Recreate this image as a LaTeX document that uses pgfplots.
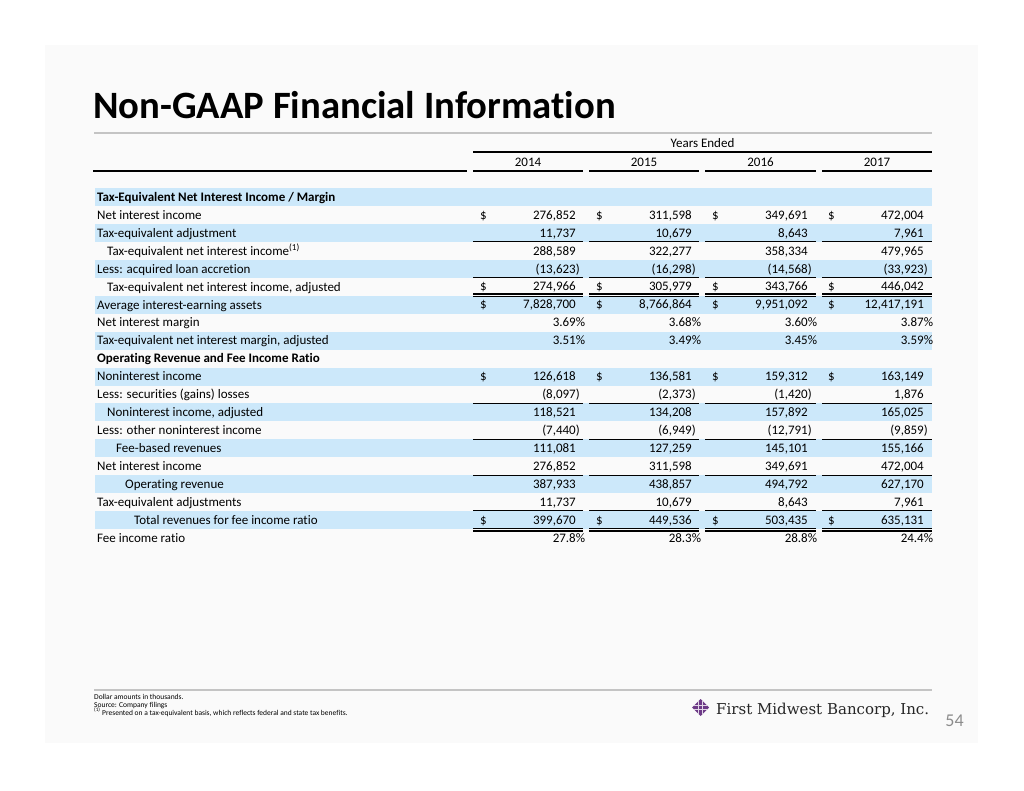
\documentclass[border=0pt]{standalone}
\usepackage{pgfplots}
\pgfplotsset{compat=1.18}
\usepackage{pgfplotstable}
\usepackage{fontspec}
\setmainfont{Carlito}[Ligatures=NoCommon]
\newfontfamily\logofont{DejaVu Serif}
\definecolor{band}{HTML}{CCE8FA}
\definecolor{slidebg}{HTML}{FAFAFA}
\definecolor{rulegray}{HTML}{C4C4C4}
\definecolor{logopurple}{HTML}{6D3A87}
\definecolor{pagegray}{HTML}{8C8C8C}

\newcommand\body{\fontsize{13}{15}\selectfont}
\pgfkeys{/pgf/number format/acctfmt/.style={fixed,precision=0,1000 sep={,},assume math mode=true}}
\def\myflip#1#2\relax{\def\myabs{1#2}}
\newcommand\acct{\pgfmathfloatgetflagstomacro{\pgfplotspointmeta}{\myflags}%
  \ifnum\myflags=2 \expandafter\myflip\pgfplotspointmeta\relax
  (\pgfmathprintnumber[acctfmt]{\myabs}\rlap{)}%
  \else\pgfmathprintnumber[acctfmt]{\pgfplotspointmeta}\fi}

% Dollar amounts in thousands (negative = shown in parentheses)
\pgfplotstableread{
row c2014 c2015 c2016 c2017
1 276852 311598 349691 472004
2 11737 10679 8643 7961
3 288589 322277 358334 479965
4 -13623 -16298 -14568 -33923
5 274966 305979 343766 446042
6 7828700 8766864 9951092 12417191
10 126618 136581 159312 163149
11 -8097 -2373 -1420 1876
12 118521 134208 157892 165025
13 -7440 -6949 -12791 -9859
14 111081 127259 145101 155166
15 276852 311598 349691 472004
16 387933 438857 494792 627170
17 11737 10679 8643 7961
18 399670 449536 503435 635131
}\amounts
% Margins (percent)
\pgfplotstableread{
row c2014 c2015 c2016 c2017
7 3.69 3.68 3.60 3.87
8 3.51 3.49 3.45 3.59
}\margins
% Fee income ratio (percent)
\pgfplotstableread{
row c2014 c2015 c2016 c2017
19 27.8 28.3 28.8 24.4
}\feeratio
% Rows that carry a dollar sign
\pgfplotstableread{
row dollar
1 1
5 1
6 1
10 1
18 1
}\dollarrows

\pgfplotsset{
  cell/.style={draw=none, mark=none, point meta=explicit,
    every node near coord/.append style={anchor=base east, inner sep=0pt, font=\body, text=black}},
}
\newcommand\colrule[2][0.9pt]{\draw[line width=#1] (axis cs:473,#2)--(axis cs:583,#2) (axis cs:589,#2)--(axis cs:699,#2) (axis cs:705,#2)--(axis cs:816,#2) (axis cs:822,#2)--(axis cs:932,#2);}

\begin{document}
\begin{tikzpicture}
\begin{axis}[width=1024pt, height=791pt, scale only axis,
  xmin=0, xmax=1024, ymin=0, ymax=791, y dir=reverse,
  axis lines=none, ticks=none, clip=false]
% background
\fill[white] (axis cs:0,0) rectangle (axis cs:1024,791);
\fill[slidebg] (axis cs:45,45) rectangle (axis cs:978,743);
% bands
\fill[band] (axis cs:95,188) rectangle (axis cs:932,206);
\fill[band] (axis cs:95,223.9) rectangle (axis cs:932,241.9);
\fill[band] (axis cs:95,259.8) rectangle (axis cs:932,277.8);
\fill[band] (axis cs:95,296.2) rectangle (axis cs:932,313.7);
\fill[band] (axis cs:95,331.6) rectangle (axis cs:932,349.6);
\fill[band] (axis cs:95,367.5) rectangle (axis cs:932,385.5);
\fill[band] (axis cs:95,403.4) rectangle (axis cs:932,421.4);
\fill[band] (axis cs:95,439.3) rectangle (axis cs:932,457.3);
\fill[band] (axis cs:95,475.2) rectangle (axis cs:932,493.2);
\fill[band] (axis cs:95,511.1) rectangle (axis cs:932,529.1);
% title
\node[anchor=base west, inner sep=0pt, font=\fontsize{38.7}{43}\selectfont\bfseries] at (axis cs:93,119) {Non-GAAP Financial Information};
\draw[rulegray, line width=2.2pt] (axis cs:94,133) -- (axis cs:932,133);
% header
\node[anchor=base, inner sep=0pt, font=\body] at (axis cs:702.5,147.5) {Years Ended};
\draw[line width=1.1pt] (axis cs:473,152) -- (axis cs:932,152);
\node[anchor=base, inner sep=0pt, font=\body] at (axis cs:528,166.5) {2014};
\node[anchor=base, inner sep=0pt, font=\body] at (axis cs:644,166.5) {2015};
\node[anchor=base, inner sep=0pt, font=\body] at (axis cs:760.5,166.5) {2016};
\node[anchor=base, inner sep=0pt, font=\body] at (axis cs:877,166.5) {2017};
\draw[line width=1.1pt] (axis cs:93,171) -- (axis cs:467,171);
\colrule[1.1pt]{171}
% row labels
\begin{scope}[every node/.style={anchor=base west, inner sep=0pt, font=\body}]
\node[font=\body\bfseries] at (axis cs:97,201.3) {Tax-Equivalent Net Interest Income / Margin};
\node at (axis cs:97,219.25) {Net interest income};
\node at (axis cs:97,237.2) {Tax-equivalent adjustment};
\node at (axis cs:107,255.15) {Tax-equivalent net interest income\textsuperscript{(1)}};
\node at (axis cs:97,273.1) {Less: acquired loan accretion};
\node at (axis cs:107,291.05) {Tax-equivalent net interest income, adjusted};
\node at (axis cs:97,309.0) {Average interest-earning assets};
\node at (axis cs:97,326.95) {Net interest margin};
\node at (axis cs:97,344.9) {Tax-equivalent net interest margin, adjusted};
\node[font=\body\bfseries] at (axis cs:97,362.85) {Operating Revenue and Fee Income Ratio};
\node at (axis cs:97,380.8) {Noninterest income};
\node at (axis cs:97,398.75) {Less: securities (gains) losses};
\node at (axis cs:107,416.7) {Noninterest income, adjusted};
\node at (axis cs:97,434.65) {Less: other noninterest income};
\node at (axis cs:116,452.6) {Fee-based revenues};
\node at (axis cs:97,470.55) {Net interest income};
\node at (axis cs:125,488.5) {Operating revenue};
\node at (axis cs:97,506.45) {Tax-equivalent adjustments};
\node at (axis cs:134,524.4) {Total revenues for fee income ratio};
\node at (axis cs:97,542.35) {Fee income ratio};
\end{scope}
% rules under columns
\colrule{241.4}
\colrule{277.2}
\colrule[1.1pt]{294.0}
\colrule[1.1pt]{296.7}
\colrule{403.2}
\colrule{439.1}
\colrule{475.0}
\colrule{510.9}
\colrule[1.1pt]{528.3}
\colrule[1.1pt]{531.0}
% values
\addplot[cell, nodes near coords={\acct}] table[x expr=576, y expr={201.2+17.95*\thisrow{row}}, meta=c2014] {\amounts};
\addplot[cell, nodes near coords={\acct}] table[x expr=692, y expr={201.2+17.95*\thisrow{row}}, meta=c2015] {\amounts};
\addplot[cell, nodes near coords={\acct}] table[x expr=808, y expr={201.2+17.95*\thisrow{row}}, meta=c2016] {\amounts};
\addplot[cell, nodes near coords={\acct}] table[x expr=924, y expr={201.2+17.95*\thisrow{row}}, meta=c2017] {\amounts};
\addplot[cell, nodes near coords={\pgfmathprintnumber[fixed,fixed zerofill,precision=2,assume math mode=true]{\pgfplotspointmeta}\rlap{\%}}] table[x expr=576, y expr={201.2+17.95*\thisrow{row}}, meta=c2014] {\margins};
\addplot[cell, nodes near coords={\pgfmathprintnumber[fixed,fixed zerofill,precision=2,assume math mode=true]{\pgfplotspointmeta}\rlap{\%}}] table[x expr=692, y expr={201.2+17.95*\thisrow{row}}, meta=c2015] {\margins};
\addplot[cell, nodes near coords={\pgfmathprintnumber[fixed,fixed zerofill,precision=2,assume math mode=true]{\pgfplotspointmeta}\rlap{\%}}] table[x expr=808, y expr={201.2+17.95*\thisrow{row}}, meta=c2016] {\margins};
\addplot[cell, nodes near coords={\pgfmathprintnumber[fixed,fixed zerofill,precision=2,assume math mode=true]{\pgfplotspointmeta}\rlap{\%}}] table[x expr=924, y expr={201.2+17.95*\thisrow{row}}, meta=c2017] {\margins};
\addplot[cell, nodes near coords={\pgfmathprintnumber[fixed,fixed zerofill,precision=1,assume math mode=true]{\pgfplotspointmeta}\rlap{\%}}] table[x expr=576, y expr={201.2+17.95*\thisrow{row}}, meta=c2014] {\feeratio};
\addplot[cell, nodes near coords={\pgfmathprintnumber[fixed,fixed zerofill,precision=1,assume math mode=true]{\pgfplotspointmeta}\rlap{\%}}] table[x expr=692, y expr={201.2+17.95*\thisrow{row}}, meta=c2015] {\feeratio};
\addplot[cell, nodes near coords={\pgfmathprintnumber[fixed,fixed zerofill,precision=1,assume math mode=true]{\pgfplotspointmeta}\rlap{\%}}] table[x expr=808, y expr={201.2+17.95*\thisrow{row}}, meta=c2016] {\feeratio};
\addplot[cell, nodes near coords={\pgfmathprintnumber[fixed,fixed zerofill,precision=1,assume math mode=true]{\pgfplotspointmeta}\rlap{\%}}] table[x expr=924, y expr={201.2+17.95*\thisrow{row}}, meta=c2017] {\feeratio};
% dollar signs
\addplot[cell, nodes near coords={\$}, every node near coord/.append style={anchor=base west}] table[x expr=480, y expr={201.2+17.95*\thisrow{row}}, meta=dollar] {\dollarrows};
\addplot[cell, nodes near coords={\$}, every node near coord/.append style={anchor=base west}] table[x expr=596, y expr={201.2+17.95*\thisrow{row}}, meta=dollar] {\dollarrows};
\addplot[cell, nodes near coords={\$}, every node near coord/.append style={anchor=base west}] table[x expr=712, y expr={201.2+17.95*\thisrow{row}}, meta=dollar] {\dollarrows};
\addplot[cell, nodes near coords={\$}, every node near coord/.append style={anchor=base west}] table[x expr=828, y expr={201.2+17.95*\thisrow{row}}, meta=dollar] {\dollarrows};
% footer
\draw[rulegray, line width=1.5pt] (axis cs:94,690) -- (axis cs:932,690);
\begin{scope}[every node/.style={anchor=base west, inner sep=0pt, font=\fontsize{7.5}{8}\selectfont}]
\node at (axis cs:94,699.5) {Dollar amounts in thousands.};
\node at (axis cs:94,707.2) {Source: Company filings};
\node at (axis cs:94,715.0) {\textsuperscript{(1)} Presented on a tax-equivalent basis, which reflects federal and state tax benefits.};
\end{scope}
% logo
\begin{scope}
\clip (axis cs:700.5,699) -- (axis cs:709,707.5) -- (axis cs:700.5,716) -- (axis cs:692,707.5) -- cycle;
\fill[logopurple] (axis cs:690,697) rectangle (axis cs:712,718);
\draw[white!80!logopurple, line width=0.7pt] (axis cs:698.5,697) -- (axis cs:698.5,718) (axis cs:702.5,697) -- (axis cs:702.5,718)
  (axis cs:690,705.5) -- (axis cs:712,705.5) (axis cs:690,709.5) -- (axis cs:712,709.5);
\end{scope}
\node[anchor=base west, inner sep=0pt, font=\logofont\fontsize{15}{16}\selectfont, text=black!85] at (axis cs:716,714.5) {First Midwest Bancorp, Inc.};
\node[anchor=center, inner sep=0pt, font=\fontsize{18}{20}\selectfont, text=pagegray] at (axis cs:954.5,721) {54};
\end{axis}
\end{tikzpicture}
\end{document}
